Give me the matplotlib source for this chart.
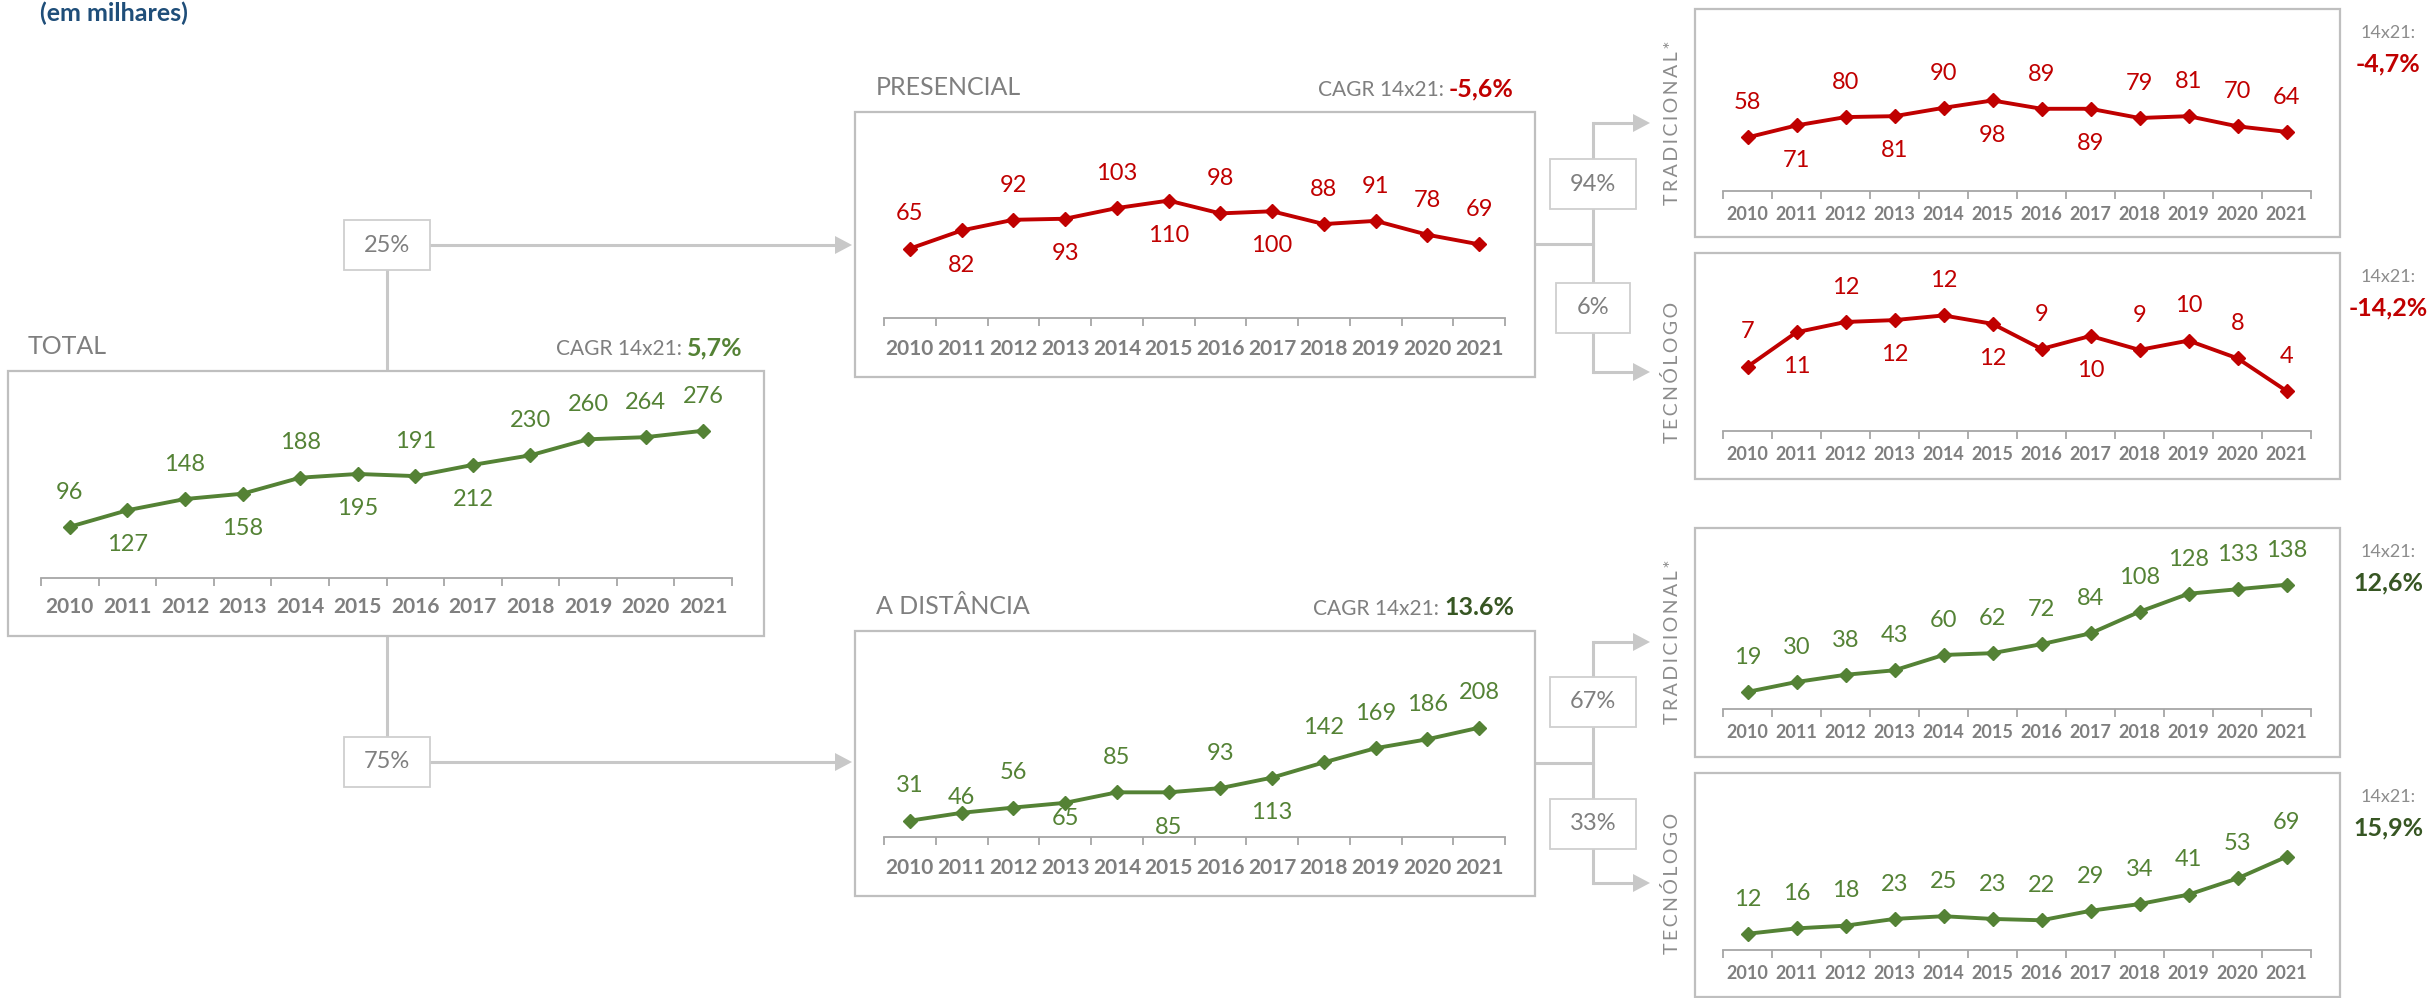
import matplotlib

matplotlib.use("Agg")
import matplotlib.pyplot as plt
from matplotlib.patches import Polygon, Rectangle

plt.rcParams["font.family"] = ["Lato", "DejaVu Sans"]

# --- data (milhares) ---
years = [str(y) for y in range(2010, 2022)]
total = [96, 127, 148, 158, 188, 195, 191, 212, 230, 260, 264, 276]
presencial = [65, 82, 92, 93, 103, 110, 98, 100, 88, 91, 78, 69]
distancia = [31, 46, 56, 65, 85, 85, 93, 113, 142, 169, 186, 208]
pres_trad = [58, 71, 80, 81, 90, 98, 89, 89, 79, 81, 70, 64]
pres_tec = [6.9, 10.6, 11.7, 11.9, 12.4, 11.5, 8.8, 10.2, 8.7, 9.7, 7.8, 4.3]
dist_trad = [19, 30, 38, 43, 60, 62, 72, 84, 108, 128, 133, 138]
dist_tec = [12, 16, 18, 23, 25, 23, 22, 29, 34, 41, 53, 69]

total_split = ["25%", "75%"]
pres_split = ["94%", "6%"]
dist_split = ["67%", "33%"]
cagr_main = ["5,7%", "-5,6%", "13.6%"]
cagr_sub = ["-4,7%", "-14,2%", "12,6%", "15,9%"]

# label placement: a = above, b = below, upper case = close to the line
pos_alt = "ababababaaaa"
pos_dist = "aAaBababaaaa"
pos_up = "aaaaaaaaaaaa"

RED = "#C00000"
GREEN = "#548235"
DKGREEN = "#375623"
GRAY = "#7F7F7F"
BOXC = "#BFBFBF"
CONN = "#C8C8C8"

W, H = 2432, 998
fig = plt.figure(figsize=(W / 100, H / 100), dpi=100)
ax0 = fig.add_axes([0, 0, 1, 1])
ax0.set_xlim(0, W)
ax0.set_ylim(H, 0)
ax0.axis("off")


def panel(box, span, axis_y, ytop, values, pos, color, yfs, pad):
    x0, y0, x1, y1 = box
    ax0.add_patch(Rectangle((x0, y0), x1 - x0, y1 - y0, fc="white", ec=BOXC, lw=1.6, zorder=1))
    xl, xr = span
    ax = fig.add_axes([xl / W, 1 - axis_y / H, (xr - xl) / W, (axis_y - y0) / H])
    ax.patch.set_visible(False)
    ax.set_xlim(-0.5, 11.5)
    ax.set_ylim(0, ytop)
    ax.plot(range(12), values, color=color, lw=2.8, marker="D", ms=7, clip_on=False)
    for i, (v, p) in enumerate(zip(values, pos)):
        off = {"a": 25, "b": -25, "A": 11, "B": -11}[p]
        ax.annotate(f"{v:.0f}", (i, v), xytext=(0, off), textcoords="offset points",
                    ha="center", va="center", fontsize=17, color=color)
    for s in ("left", "right", "top"):
        ax.spines[s].set_visible(False)
    ax.spines["bottom"].set_color("#A6A6A6")
    ax.spines["bottom"].set_linewidth(1.3)
    ax.set_yticks([])
    ax.set_xticks(range(12), years)
    ax.set_xticks([i - 0.5 for i in range(13)], minor=True)
    ax.tick_params(axis="x", which="major", length=0, pad=pad, labelsize=yfs,
                   labelcolor=GRAY)
    ax.tick_params(axis="x", which="minor", length=6, width=1.3, color="#A6A6A6")
    for t in ax.get_xticklabels():
        t.set_fontweight("bold")
    return ax


def arrow(xa, xb, y):
    ax0.plot([xa, xb - 14], [y, y], color=CONN, lw=2.2, solid_capstyle="butt", zorder=0)
    ax0.add_patch(Polygon([[xb - 17, y - 9], [xb - 17, y + 9], [xb, y]], closed=True,
                          fc=CONN, lw=0, zorder=0))


def vline(x, ya, yb):
    ax0.plot([x, x], [ya, yb], color=CONN, lw=2.2, zorder=0)


def hline(xa, xb, y):
    ax0.plot([xa, xb], [y, y], color=CONN, lw=2.2, zorder=0)


def pct_box(cx, cy, w, label):
    h = 50
    ax0.add_patch(Rectangle((cx - w / 2, cy - h / 2), w, h, fc="white", ec="#CFCFCF",
                            lw=1.3, zorder=3))
    ax0.text(cx, cy, label, ha="center", va="center", fontsize=17, color=GRAY, zorder=4)


def cagr(xr, y, value, color, prefix="CAGR 14x21: "):
    val = ax0.text(xr, y, value, ha="right", va="baseline", fontsize=18,
                   fontweight="bold", color=color)
    r = fig.canvas.get_renderer()
    bb = val.get_window_extent(renderer=r)
    xl = ax0.transData.inverted().transform((bb.x0, bb.y0))[0]
    ax0.text(xl, y, prefix, ha="right", va="baseline", fontsize=15, color=GRAY)


# title
ax0.text(40, 21, "(em milhares)", fontsize=18, fontweight="bold", color="#1F4E79",
         va="baseline")

# connectors (drawn first, boxes on top)
vline(387, 245, 371)
vline(387, 636, 762)
arrow(387, 852, 245)
arrow(387, 852, 762)
hline(1535, 1593, 244)
vline(1593, 123, 372)
arrow(1593, 1650, 123)
arrow(1593, 1650, 372)
hline(1535, 1593, 763)
vline(1593, 642, 883)
arrow(1593, 1650, 642)
arrow(1593, 1650, 883)

pct_box(387, 245, 86, total_split[0])
pct_box(387, 762, 86, total_split[1])
pct_box(1593, 184, 86, pres_split[0])
pct_box(1593, 308, 74, pres_split[1])
pct_box(1593, 702, 86, dist_split[0])
pct_box(1593, 824, 86, dist_split[1])

# main panels
panel((8, 371, 764, 636), (41, 732), 578, 388, total, pos_alt, GREEN, 15, 14)
ax0.text(28, 346, "TOTAL", fontsize=18, color=GRAY, va="center")
cagr(743, 355, cagr_main[0], GREEN)

panel((855, 112, 1535, 377), (884, 1505), 318, 193, presencial, pos_alt, RED, 15, 15)
ax0.text(876, 87, "PRESENCIAL", fontsize=18, color=GRAY, va="center")
cagr(1514, 96, cagr_main[1], RED)

panel((855, 631, 1535, 896), (884, 1505), 837, 392, distancia, pos_dist, GREEN, 15, 15)
ax0.text(876, 606, "A DISTÂNCIA", fontsize=18, color=GRAY, va="center")
cagr(1514, 615, cagr_main[2], DKGREEN)

# sub panels
subs = [
    ((1695, 9, 2340, 237), 191, 197, pres_trad, pos_alt, RED, "TRADICIONAL*", 123, cagr_sub[0]),
    ((1695, 253, 2340, 479), 431, 19.1, pres_tec, pos_alt, RED, "TECNÓLOGO", 372, cagr_sub[1]),
    ((1695, 528, 2340, 757), 709, 201, dist_trad, pos_up, GREEN, "TRADICIONAL*", 642, cagr_sub[2]),
    ((1695, 773, 2340, 997), 950, 131, dist_tec, pos_up, GREEN, "TECNÓLOGO", 883, cagr_sub[3]),
]
for box, axis_y, ytop, vals, pos, col, name, ymid, cg in subs:
    panel(box, (1723, 2311), axis_y, ytop, vals, pos, col, 13, 11)
    spaced = "\u2009".join(name)
    ax0.text(1672, ymid, spaced, rotation=90, ha="center", va="center", fontsize=14,
             color="#8C8C8C")
    top = box[1]
    ax0.text(2388, top + 24, "14x21:", ha="center", va="center", fontsize=13, color="#8C8C8C")
    ax0.text(2388, top + 55, cg, ha="center", va="center", fontsize=18, fontweight="bold",
             color=RED if col == RED else DKGREEN)

fig.savefig("out.png", dpi=100)
